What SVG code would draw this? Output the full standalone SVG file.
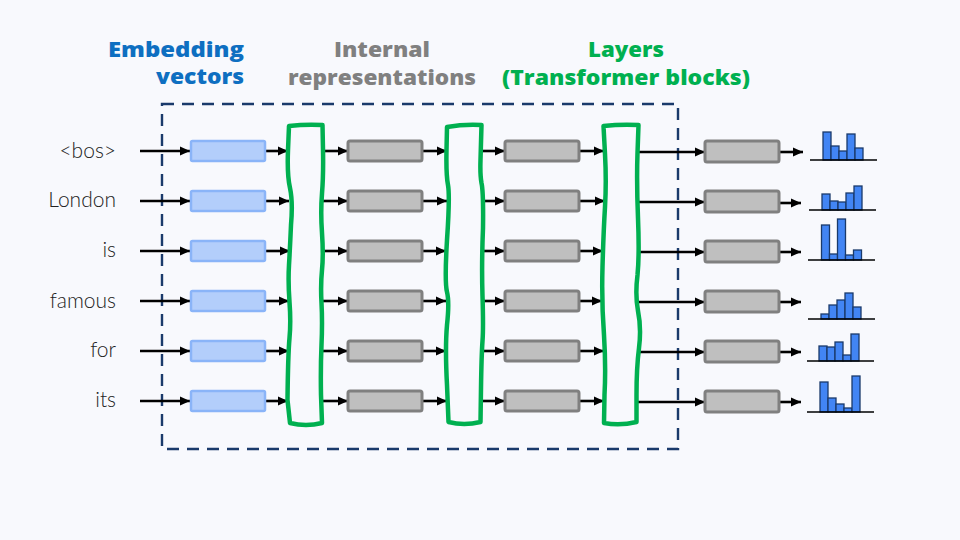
<svg xmlns="http://www.w3.org/2000/svg" width="960" height="540" viewBox="0 0 960 540">
<defs>
<marker id="ah" markerUnits="userSpaceOnUse" markerWidth="10" markerHeight="10" refX="10" refY="5" orient="auto"><path d="M0,0.5 L10,5 L0,9.5 z" fill="#000"/></marker>
<style>
.ttl{font-family:"Open Sans","Liberation Sans",sans-serif;font-weight:800;font-size:21px;text-anchor:middle}
.tok{font-family:Lato,"Open Sans","Liberation Sans",sans-serif;font-weight:300;font-size:21px;fill:#222;text-anchor:end}
line.ar{stroke:#000;stroke-width:2.6;marker-end:url(#ah)}
.emb{fill:#b3cefb;stroke:#8ab4f8;stroke-width:2.5}
.rep{fill:#bfbfbf;stroke:#808080;stroke-width:3}
.lay{fill:#f8f9fd;stroke:#00b050;stroke-width:4.5;stroke-linejoin:round}
.bar{fill:#4285f4;stroke:#1a3a6b;stroke-width:1.3}
.base{stroke:#000;stroke-width:1.5}
</style>
</defs>
<rect width="960" height="540" fill="#f8f9fd"/>
<g id="titles">
<text class="ttl" x="244" y="57" style="text-anchor:end" fill="#0e6fc1" textLength="136" lengthAdjust="spacingAndGlyphs">Embedding</text>
<text class="ttl" x="244" y="84" style="text-anchor:end" fill="#0e6fc1" textLength="88" lengthAdjust="spacingAndGlyphs">vectors</text>
<text class="ttl" x="382" y="57" fill="#808080" textLength="96" lengthAdjust="spacingAndGlyphs">Internal</text>
<text class="ttl" x="382" y="85" fill="#808080" textLength="188" lengthAdjust="spacingAndGlyphs">representations</text>
<text class="ttl" x="626" y="57" fill="#00b050" textLength="76" lengthAdjust="spacingAndGlyphs">Layers</text>
<text class="ttl" x="626" y="85" fill="#00b050" textLength="248" lengthAdjust="spacingAndGlyphs">(Transformer blocks)</text>
</g>
<g id="tokens">
<text class="tok" x="116" y="158">&lt;bos&gt;</text>
<text class="tok" x="116" y="207">London</text>
<text class="tok" x="116" y="257">is</text>
<text class="tok" x="116" y="308">famous</text>
<text class="tok" x="116" y="357">for</text>
<text class="tok" x="116" y="407">its</text>
</g>
<g id="boundary">
<rect x="162" y="104" width="516" height="345" fill="none" stroke="#1a3a6b" stroke-width="2.4" stroke-dasharray="12,8"/>
</g>
<g id="connectors">
<line class="ar" x1="140" y1="151" x2="190" y2="151"/><line class="ar" x1="140" y1="201" x2="190" y2="201"/><line class="ar" x1="140" y1="251" x2="190" y2="251"/><line class="ar" x1="140" y1="301" x2="190" y2="301"/><line class="ar" x1="140" y1="351" x2="190" y2="351"/><line class="ar" x1="140" y1="401" x2="190" y2="401"/>
<line class="ar" x1="265" y1="151" x2="288" y2="151"/><line class="ar" x1="265" y1="201" x2="289" y2="201"/><line class="ar" x1="265" y1="251" x2="290" y2="251"/><line class="ar" x1="265" y1="301" x2="289" y2="301"/><line class="ar" x1="265" y1="351" x2="289" y2="351"/><line class="ar" x1="265" y1="401" x2="288" y2="401"/>
<line class="ar" x1="323" y1="151" x2="348" y2="151"/><line class="ar" x1="323" y1="201" x2="348" y2="201"/><line class="ar" x1="322" y1="251" x2="348" y2="251"/><line class="ar" x1="322" y1="301" x2="348" y2="301"/><line class="ar" x1="322" y1="351" x2="348" y2="351"/><line class="ar" x1="322" y1="401" x2="348" y2="401"/>
<line class="ar" x1="422" y1="151" x2="447" y2="151"/><line class="ar" x1="422" y1="201" x2="447" y2="201"/><line class="ar" x1="422" y1="251" x2="446" y2="251"/><line class="ar" x1="422" y1="301" x2="446" y2="301"/><line class="ar" x1="422" y1="351" x2="446" y2="351"/><line class="ar" x1="422" y1="401" x2="447" y2="401"/>
<line class="ar" x1="481" y1="151" x2="505" y2="151"/><line class="ar" x1="482" y1="201" x2="505" y2="201"/><line class="ar" x1="482" y1="251" x2="505" y2="251"/><line class="ar" x1="482" y1="301" x2="505" y2="301"/><line class="ar" x1="482" y1="351" x2="505" y2="351"/><line class="ar" x1="481" y1="401" x2="505" y2="401"/>
<line class="ar" x1="579" y1="151" x2="604" y2="151"/><line class="ar" x1="579" y1="201" x2="605" y2="201"/><line class="ar" x1="579" y1="251" x2="603" y2="251"/><line class="ar" x1="579" y1="301" x2="602" y2="301"/><line class="ar" x1="579" y1="351" x2="604" y2="351"/><line class="ar" x1="579" y1="401" x2="604" y2="401"/>
<line class="ar" x1="638" y1="152" x2="705" y2="152"/><line class="ar" x1="638" y1="202" x2="705" y2="202"/><line class="ar" x1="639" y1="252" x2="705" y2="252"/><line class="ar" x1="637" y1="302" x2="705" y2="302"/><line class="ar" x1="639" y1="352" x2="705" y2="352"/><line class="ar" x1="637" y1="402" x2="705" y2="402"/>
<line class="ar" x1="779" y1="152" x2="803" y2="152"/><line class="ar" x1="779" y1="203" x2="801" y2="203"/><line class="ar" x1="779" y1="252" x2="801" y2="252"/><line class="ar" x1="779" y1="302" x2="801" y2="302"/><line class="ar" x1="779" y1="352" x2="801" y2="352"/><line class="ar" x1="779" y1="402" x2="801" y2="402"/>
</g>
<g id="embeddings">
<rect class="emb" x="191" y="141" width="74" height="20" rx="1.5"/>
<rect class="emb" x="191" y="191" width="74" height="20" rx="1.5"/>
<rect class="emb" x="191" y="241" width="74" height="20" rx="1.5"/>
<rect class="emb" x="191" y="291" width="74" height="20" rx="1.5"/>
<rect class="emb" x="191" y="341" width="74" height="20" rx="1.5"/>
<rect class="emb" x="191" y="391" width="74" height="20" rx="1.5"/>
</g>
<g id="layer1">
<path class="lay" d="M289,126 Q306,124 322.5,125 L323,150 Q323.5,175 322,193.5 Q320.5,212 322,233 Q323.5,255 322,270 Q320.5,285 321.5,303 Q322.5,322 321.5,345 Q320.5,368 321,395 L322,423 Q306,427 290,423 L287.5,400 Q288,355 289.5,338 Q291,322 289.5,302 Q288,282 289,265 Q290,248 291,225 Q293,202 290,188 Q287,175 288,150 Z"/>
</g>
<g id="reps1">
<rect class="rep" x="348" y="141" width="74" height="20" rx="2"/>
<rect class="rep" x="348" y="191" width="74" height="20" rx="2"/>
<rect class="rep" x="348" y="241" width="74" height="20" rx="2"/>
<rect class="rep" x="348" y="291" width="74" height="20" rx="2"/>
<rect class="rep" x="348" y="341" width="74" height="20" rx="2"/>
<rect class="rep" x="348" y="391" width="74" height="20" rx="2"/>
</g>
<g id="layer2">
<path class="lay" d="M447,127 Q464,124 481.5,125 L480.5,160 Q480,175 481.5,183 Q483.5,192 483,228 Q481.5,265 482.5,296 Q483.5,328 482.5,341 Q481.5,355 481,388 L480.5,422 Q464,426 448.5,422 L447,385 Q445,348 447,325 Q449.5,302 447,292 Q444.5,282 447,240 Q450,196 448,185 Q446,175 446.5,150 Z"/>
</g>
<g id="reps2">
<rect class="rep" x="505" y="141" width="74" height="20" rx="2"/>
<rect class="rep" x="505" y="191" width="74" height="20" rx="2"/>
<rect class="rep" x="505" y="241" width="74" height="20" rx="2"/>
<rect class="rep" x="505" y="291" width="74" height="20" rx="2"/>
<rect class="rep" x="505" y="341" width="74" height="20" rx="2"/>
<rect class="rep" x="505" y="391" width="74" height="20" rx="2"/>
</g>
<g id="layer3">
<path class="lay" d="M603.5,126 Q621,124 638.5,125 L637.5,153 Q636.5,182 638,218 Q639.5,255 637.5,275 Q635,295 638,311 Q641.5,328 639,348 Q636.5,368 636.5,395 L636.5,422 Q620,426 604,423 L604.5,395 Q606,368 604,335 Q601.5,302 602.5,267 Q603.5,232 605,207 Q606.5,182 605,154 Z"/>
</g>
<g id="reps3">
<rect class="rep" x="705" y="141" width="74" height="21" rx="2"/>
<rect class="rep" x="705" y="191" width="74" height="21" rx="2"/>
<rect class="rep" x="705" y="241" width="74" height="21" rx="2"/>
<rect class="rep" x="705" y="291" width="74" height="21" rx="2"/>
<rect class="rep" x="705" y="341" width="74" height="21" rx="2"/>
<rect class="rep" x="705" y="391" width="74" height="21" rx="2"/>
</g>
<g id="hist1">
<rect class="bar" x="823" y="132" width="8" height="28"/><rect class="bar" x="831" y="146" width="8" height="14"/><rect class="bar" x="839" y="151" width="8" height="9"/><rect class="bar" x="847" y="134" width="8" height="26"/><rect class="bar" x="855" y="148" width="8" height="12"/>
<line class="base" x1="810" y1="160" x2="877" y2="160"/>
</g>
<g id="hist2">
<rect class="bar" x="822" y="194" width="8" height="16"/><rect class="bar" x="830" y="201" width="8" height="9"/><rect class="bar" x="838" y="202" width="8" height="8"/><rect class="bar" x="846" y="193" width="8" height="17"/><rect class="bar" x="854" y="186" width="8" height="24"/>
<line class="base" x1="809" y1="210" x2="876" y2="210"/>
</g>
<g id="hist3">
<rect class="bar" x="821.5" y="225" width="8" height="35"/><rect class="bar" x="829.5" y="254" width="8" height="6"/><rect class="bar" x="837.5" y="219" width="8" height="41"/><rect class="bar" x="845.5" y="255" width="8" height="5"/><rect class="bar" x="853.5" y="250" width="8" height="10"/>
<line class="base" x1="808" y1="260" x2="875" y2="260"/>
</g>
<g id="hist4">
<rect class="bar" x="821" y="314" width="8" height="5"/><rect class="bar" x="829" y="305" width="8" height="14"/><rect class="bar" x="837" y="300" width="8" height="19"/><rect class="bar" x="845" y="293" width="8" height="26"/><rect class="bar" x="853" y="307" width="8" height="12"/>
<line class="base" x1="808" y1="319" x2="875" y2="319"/>
</g>
<g id="hist5">
<rect class="bar" x="819" y="346" width="8" height="15"/><rect class="bar" x="827" y="347" width="8" height="14"/><rect class="bar" x="835" y="342" width="8" height="19"/><rect class="bar" x="843" y="355" width="8" height="6"/><rect class="bar" x="851" y="334" width="8" height="27"/>
<line class="base" x1="807" y1="361" x2="874" y2="361"/>
</g>
<g id="hist6">
<rect class="bar" x="820" y="382" width="8" height="30"/><rect class="bar" x="828" y="398" width="8" height="14"/><rect class="bar" x="836" y="404" width="8" height="8"/><rect class="bar" x="844" y="408" width="8" height="4"/><rect class="bar" x="852" y="376" width="8" height="36"/>
<line class="base" x1="807" y1="412" x2="874" y2="412"/>
</g>
</svg>
